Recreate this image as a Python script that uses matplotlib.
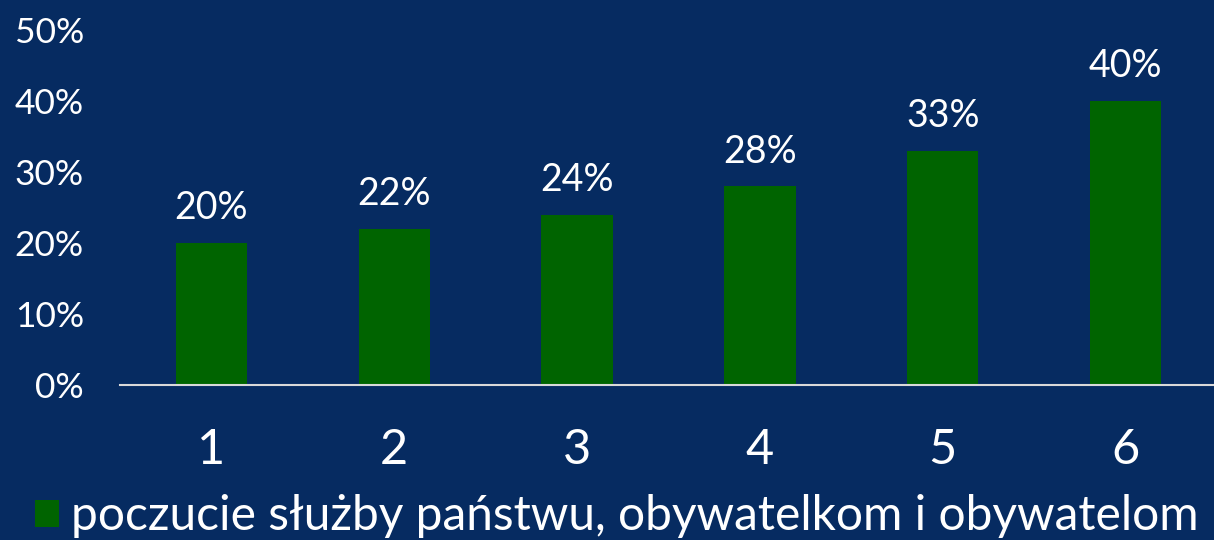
import matplotlib.pyplot as plt
from matplotlib.patches import Patch

categories = ['1', '2', '3', '4', '5', '6']
values = [0.20, 0.22, 0.24, 0.28, 0.33, 0.40]
labels = ['20%', '22%', '24%', '28%', '33%', '40%']
yticks = [0, 0.1, 0.2, 0.3, 0.4, 0.5]
series_name = 'poczucie służby państwu, obywatelkom i obywatelom'

bg = '#062B61'
green = '#006400'

plt.rcParams['font.family'] = ['Lato', 'DejaVu Sans']

fig = plt.figure(figsize=(12.14, 5.4), dpi=100, facecolor=bg)
ax = fig.add_axes([120 / 1214, 1 - 385 / 540, 1097 / 1214, 355 / 540])
ax.set_facecolor(bg)

x = list(range(len(categories)))
bars = ax.bar(x, values, width=0.39, color=green)

for xi, v, lab in zip(x, values, labels):
    ax.annotate(lab, (xi, v), xytext=(0, 12), textcoords='offset points',
                ha='center', va='bottom', color='white', fontsize=27)

ax.set_xlim(-0.5, 5.5)
ax.set_ylim(0, 0.5)
ax.set_xticks(x)
ax.set_xticklabels(categories, fontsize=35, color='white')
ax.set_yticks(yticks)
ax.set_yticklabels([f'{int(t * 100)}%' for t in yticks], fontsize=25.5, color='white')
ax.tick_params(axis='both', length=0)
ax.tick_params(axis='x', pad=31)
ax.tick_params(axis='y', pad=26)

for s in ['top', 'right', 'left']:
    ax.spines[s].set_visible(False)
ax.spines['bottom'].set_color('#D9D9D9')
ax.spines['bottom'].set_linewidth(1.5)

handle = Patch(facecolor=green, edgecolor='none')
fig.legend([handle], [series_name], loc='center', bbox_to_anchor=(0.508, 0.044),
           frameon=False, fontsize=34.5, labelcolor='white', borderpad=0,
           handlelength=0.5, handleheight=0.5, handletextpad=0.25)

fig.savefig('out.png', dpi=100, facecolor=bg)
